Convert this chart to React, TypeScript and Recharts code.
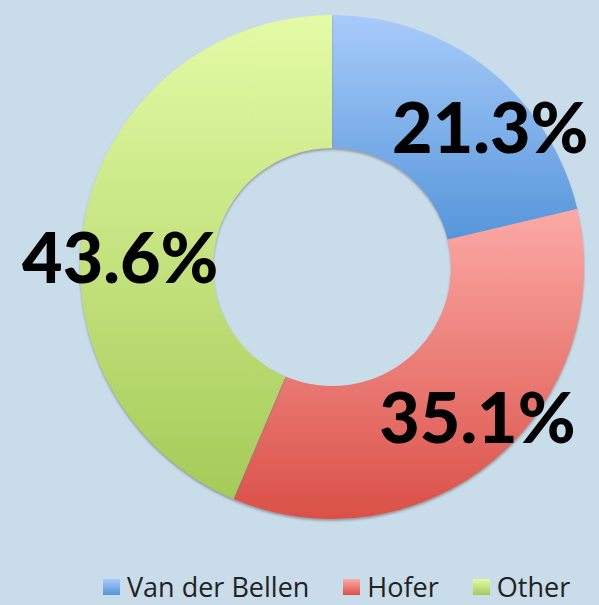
import React from 'react';
import { PieChart, Pie, Cell, Legend } from 'recharts';

const categories = ['Van der Bellen', 'Hofer', 'Other'];
const shares = [21.3, 35.1, 43.6];
const percentLabels = ['21.3%', '35.1%', '43.6%'];

const data = categories.map((name, i) => ({ name, value: shares[i], label: percentLabels[i] }));

const gradients = [
  { id: 'gBlue', top: '#a8cbfa', bottom: '#5596da' },
  { id: 'gRed', top: '#fcaaa6', bottom: '#da5047' },
  { id: 'gGreen', top: '#e3fba6', bottom: '#a5cb58' },
];

const labelNudge = [
  [28, 26],
  [10, -10],
  [-6, 33],
];

const RAD = Math.PI / 180;

const renderLabel = (props: any) => {
  const { cx, cy, midAngle, index } = props;
  const r = 210;
  const x = cx + r * Math.cos(-midAngle * RAD) + labelNudge[index][0];
  const y = cy + r * Math.sin(-midAngle * RAD) + labelNudge[index][1];
  return (
    <text
      x={x}
      y={y + 25}
      textAnchor="middle"
      fill="#000"
      fontFamily="Lato, 'Open Sans', sans-serif"
      fontWeight={900}
      fontSize={70}
    >
      {data[index].label}
    </text>
  );
};

const renderLegend = () => (
  <div style={{ display: 'flex', alignItems: 'center', paddingLeft: 103, whiteSpace: 'nowrap', fontFamily: "'Open Sans', sans-serif", fontSize: 27, color: '#222', width: 599, boxSizing: 'border-box' }}>
    {categories.map((c, i) => (
      <div key={c} style={{ display: 'flex', alignItems: 'center', flexShrink: 0, marginRight: i < categories.length - 1 ? 34 : 0 }}>
        <svg width={17} height={16} style={{ marginRight: 7, flexShrink: 0 }}>
          <rect x={0} y={0} width={17} height={16} fill={`url(#${gradients[i].id}L)`} />
          <defs>
            <linearGradient id={`${gradients[i].id}L`} x1="0" y1="0" x2="0" y2="1">
              <stop offset="0%" stopColor={gradients[i].top} />
              <stop offset="100%" stopColor={gradients[i].bottom} />
            </linearGradient>
          </defs>
        </svg>
        <span style={{ lineHeight: '30px', whiteSpace: 'nowrap' }}>{c}</span>
      </div>
    ))}
  </div>
);

export default function App() {
  return (
    <div style={{ position: 'absolute', left: 0, top: 0, width: 599, height: 605, background: '#c9dcea', overflow: 'hidden' }}>
      <PieChart width={599} height={605} margin={{ top: 0, right: 0, bottom: 0, left: 0 }}>
        <defs>
          {gradients.map((g) => (
            <linearGradient key={g.id} id={g.id} x1="0" y1="0" x2="0" y2="1">
              <stop offset="0%" stopColor={g.top} />
              <stop offset="100%" stopColor={g.bottom} />
            </linearGradient>
          ))}
          <filter id="shadow" x="-10%" y="-10%" width="120%" height="120%">
            <feDropShadow dx="0" dy="2" stdDeviation="1.2" floodColor="#808080" floodOpacity="0.7" />
          </filter>
        </defs>
        <Pie
          data={data}
          dataKey="value"
          nameKey="name"
          cx={332}
          cy={267}
          outerRadius={252}
          innerRadius={119}
          startAngle={90}
          endAngle={-270}
          stroke="none"
          label={renderLabel}
          labelLine={false}
          isAnimationActive={false}
          style={{ filter: 'url(#shadow)' }}
        >
          {data.map((d, i) => (
            <Cell key={d.name} fill={`url(#${gradients[i].id})`} />
          ))}
        </Pie>
        <Legend content={renderLegend} wrapperStyle={{ position: 'absolute', left: 0, top: 572, width: 599 }} />
      </PieChart>
    </div>
  );
}
